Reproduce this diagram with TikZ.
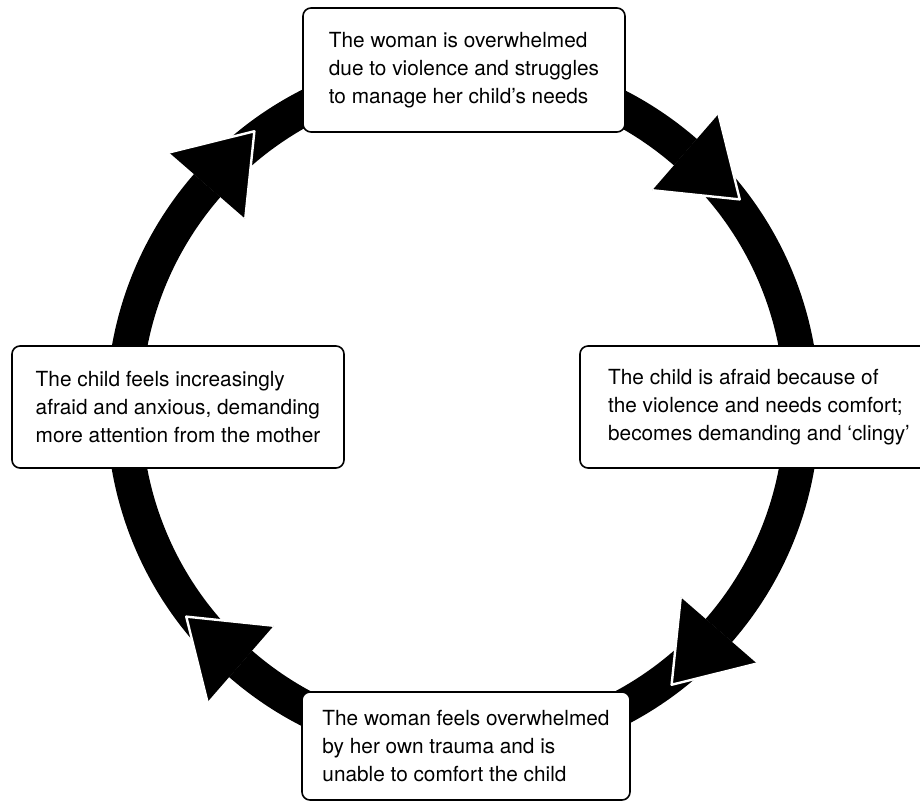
\documentclass[tikz,border=0pt]{standalone}
\usepackage{fontspec}
\setmainfont{TeX Gyre Heros}
\usetikzlibrary{calc}

\begin{document}
\begin{tikzpicture}[x=0.5pt, y=0.5pt,
% common options for the boxes:
stage/.style = {draw, thick, fill=white, rounded corners=4pt, align=left,
            inner sep=0, font=\fontsize{10.4}{14}\selectfont},
% common options for the ring:
shaft/.style = {fill=black},
head/.style = {fill=black, draw=white, line width=1.2pt, line join=round}]
\useasboundingbox (-463,-403) rectangle (457,408);
\coordinate (c) at (0,0);
% ring pieces, clockwise
\foreach \s/\e in {139/49, 49/-41, -41/-131, -131/-221}
  \fill[shaft] (\s:356.5) arc[start angle=\s, end angle=\e, radius=356.5]
    -- (\e:321.5) arc[start angle=\e, end angle=\s, radius=321.5] -- cycle;
% arrow heads on top of the next piece
\foreach \b in {49,-41,-131,139}
  \filldraw[head] (\b:389.5) -- ($(\b:339)+({\b-90}:72)$) -- (\b:288.5);
\node[stage, minimum width=161pt, minimum height=62pt] (top) at (1,338)
  {The woman is overwhelmed\\due to violence and struggles\\to manage her child's needs};
\node[stage, minimum width=179pt, minimum height=61pt] (right) at (296,1)
  {The child is afraid because of\\the violence and needs comfort;\\becomes demanding and `clingy'};
\node[stage, minimum width=164pt, minimum height=54pt] (bottom) at (3,-338)
  {The woman feels overwhelmed\\by her own trauma and is\\unable to comfort the child};
\node[stage, minimum width=166pt, minimum height=61pt] (left) at (-285,1)
  {The child feels increasingly\\afraid and anxious, demanding\\more attention from the mother};
\end{tikzpicture}
\end{document}
